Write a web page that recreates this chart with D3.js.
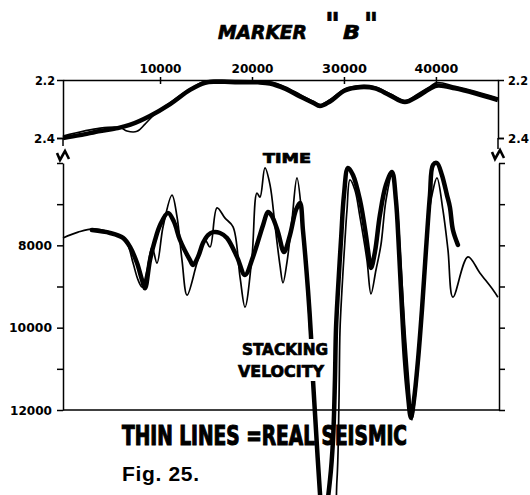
<!DOCTYPE html>
<html>
<head>
<meta charset="utf-8">
<script src="https://cdn.jsdelivr.net/npm/d3@7"></script>
<style>
	body { margin: 0; background: #fff; }
	svg { display: block; background: #fff; }
	.heavy { font-family: "Liberation Sans Narrow", "DejaVu Sans Condensed", "Liberation Sans", sans-serif; font-weight: bold; fill: #000; }
	.axis path, .axis line { stroke: #000; stroke-width: 1.5; }
</style>
</head>
<body>
<svg id="chart" width="530" height="495"></svg>
<script>
var timeTicks = [10000, 20000, 30000, 40000];
var markerTicks = [2.2, 2.4];
var velocityTicks = [6000, 7000, 8000, 9000, 10000, 11000, 12000];
var velocityLabels = [8000, 10000, 12000];

// marker "B" time: model (thick) and real seismic (thin)
var markerModel = [[-550, 2.400], [1300, 2.390], [3500, 2.376], [5400, 2.366], [6700, 2.355], [8900, 2.324],
	[11100, 2.283], [13260, 2.234], [14890, 2.210], [15980, 2.206], [17610, 2.207], [19240, 2.208],
	[20650, 2.208], [21960, 2.212], [23590, 2.230], [25220, 2.257], [26630, 2.278], [27390, 2.290],
	[28480, 2.274], [30110, 2.236], [31740, 2.225], [33370, 2.229], [35000, 2.253], [36630, 2.276],
	[38040, 2.256], [39350, 2.230], [40220, 2.219], [42070, 2.229], [44240, 2.246], [46740, 2.269]];
var markerSeismic = [[-550, 2.393], [3500, 2.366], [5650, 2.364], [6400, 2.376], [7500, 2.377], [8370, 2.352],
	[9460, 2.317], [11100, 2.278], [13260, 2.231], [14890, 2.204], [17600, 2.202], [20650, 2.203],
	[21960, 2.206], [23590, 2.223], [25220, 2.250], [26630, 2.273], [27390, 2.285], [28480, 2.268],
	[30110, 2.230], [31740, 2.219], [33370, 2.223], [35000, 2.247], [36630, 2.271], [38040, 2.248],
	[39350, 2.223], [40110, 2.209], [42070, 2.222], [44240, 2.239], [46740, 2.262]];

// stacking velocity: model (thick) and real seismic (thin)
var velocityModel = [[2600, 7630], [4570, 7700], [5980, 7820], [6740, 8040], [7500, 8430], [8040, 8840],
	[8370, 9040], [8910, 8360], [9460, 7870], [10000, 7510], [10870, 7215], [11520, 7430], [12170, 7870],
	[13260, 8360], [13590, 8480], [14130, 8280], [14680, 7940], [15220, 7750], [15760, 7680], [16520, 7700],
	[17280, 7820], [18370, 8280], [19240, 8720], [20110, 8280], [21200, 7510], [21740, 7190], [22170, 7290],
	[22830, 7680], [23480, 8160], [24130, 7750], [24780, 7140], [25220, 6970], [25540, 7630], [26090, 9090],
	[26410, 10180], [26630, 11270], [26960, 12490], [27390, 14020], [27720, 14910], [28480, 13700],
	[28810, 12730], [29020, 11270], [29130, 10060], [29350, 9090], [29680, 7870], [30000, 6780],
	[30440, 6120], [30980, 6290], [31740, 6900], [32390, 7750], [32610, 8110], [32940, 8550], [33370, 8160],
	[33910, 7260], [34570, 6530], [35220, 6220], [35650, 6900], [35980, 8110], [36310, 9570], [36630, 10790],
	[36960, 11640], [37280, 12190], [37610, 11760], [38050, 10790], [38480, 9570], [38920, 8110],
	[39350, 6780], [39680, 6050], [40110, 6000], [40650, 6290], [41200, 6780], [41520, 7070], [41850, 7630],
	[42390, 7990]];
var velocitySeismic = [[-550, 7820], [1090, 7680], [2720, 7600], [4570, 7680], [5650, 7770], [6410, 7940],
	[7070, 8430], [7610, 8840], [8040, 9010], [8590, 8600], [9130, 8040], [9670, 8430], [10330, 7550],
	[11300, 6780], [11850, 7310], [12390, 8360], [12940, 9210], [14020, 8430], [14890, 7870], [15440, 8040],
	[16200, 7090], [17070, 7340], [17940, 7550], [18700, 8770], [19240, 9500], [20000, 8280], [20540, 6730],
	[20870, 6830], [21410, 6120], [21960, 6530], [22500, 7510], [23040, 8480], [23370, 8910], [23810, 8400],
	[24350, 7380], [24890, 6360], [25440, 7310], [25980, 8910], [26410, 10540], [26850, 12240],
	[27280, 13700], [27830, 14910], [28700, 14910], [29240, 13700], [29460, 11760], [29570, 10060],
	[29780, 9090], [30110, 7870], [30330, 7140], [30650, 6410], [31200, 6660], [31740, 7310], [32500, 8360],
	[32940, 9180], [33480, 8600], [34020, 7990], [34570, 6900], [35220, 6290], [35760, 7020], [36200, 8480],
	[36630, 10060], [37070, 11390], [37390, 12240], [37830, 11510], [38370, 10060], [38810, 8600],
	[39240, 7260], [39570, 6780], [40110, 6360], [40760, 7140], [41310, 8110], [41850, 9260], [43480, 8280],
	[44780, 8670], [46200, 9080], [46740, 9260]];

var svg = d3.select('#chart');

var x = d3.scaleLinear().domain([-550, 46750]).range([63, 498]);
var yTime = d3.scaleLinear().domain([2.2, 2.4]).range([80, 138]);
var yVel = d3.scaleLinear().domain([6000, 12000]).range([163, 410]);

function fitText(sel, widths){
	sel.attr('class', 'heavy')
		.attr('textLength', function(d){ return widths[d]; })
		.attr('lengthAdjust', 'spacingAndGlyphs');
}

// top axis with distance ticks
var topAxis = svg.append('g')
	.attr('class', 'axis')
	.attr('transform', 'translate(0,' + yTime(2.2) + ')')
	.call(d3.axisTop(x).tickValues(timeTicks).tickSizeInner(-4).tickSizeOuter(0).tickPadding(7)
		.tickFormat(d3.format('d')));
topAxis.selectAll('.tick line').attr('y1', -3).attr('y2', 4);
topAxis.selectAll('.tick text')
	.attr('font-size', 13)
	.call(fitText, {10000: 42, 20000: 42, 30000: 45, 40000: 44});

// marker panel side axes
var mLeft = svg.append('g')
	.attr('class', 'axis')
	.attr('transform', 'translate(' + x.range()[0] + ',0)')
	.call(d3.axisLeft(yTime).tickValues(markerTicks).tickSize(6).tickPadding(2).tickFormat(d3.format('.1f')));
var mRight = svg.append('g')
	.attr('class', 'axis')
	.attr('transform', 'translate(' + x.range()[1] + ',0)')
	.call(d3.axisRight(yTime).tickValues(markerTicks).tickSize(6).tickPadding(4).tickFormat(d3.format('.1f')));
[mLeft, mRight].forEach(function(g){
	g.selectAll('.tick line').filter(function(d){ return d === 2.2; }).remove();
	g.selectAll('.tick text')
		.attr('font-size', 13)
		.call(fitText, {2.2: 20, 2.4: 21});
});
svg.append('line').attr('x1', x.range()[0]).attr('x2', x.range()[0])
	.attr('y1', yTime(2.4)).attr('y2', yTime(2.4) + 8)
	.attr('stroke', '#000').attr('stroke-width', 1.5);
svg.append('line').attr('x1', x.range()[1]).attr('x2', x.range()[1])
	.attr('y1', yTime(2.4)).attr('y2', yTime(2.4) + 11)
	.attr('stroke', '#000').attr('stroke-width', 1.5);

// velocity panel axes
var vLeft = svg.append('g')
	.attr('class', 'axis')
	.attr('transform', 'translate(' + x.range()[0] + ',0)')
	.call(d3.axisLeft(yVel).tickValues(velocityTicks).tickSize(6).tickPadding(5).tickSizeOuter(0)
		.tickFormat(function(d){ return velocityLabels.indexOf(d) >= 0 ? d : ''; }));
vLeft.selectAll('.tick text')
	.attr('font-size', 13)
	.call(fitText, {8000: 34, 10000: 43, 12000: 42});
svg.append('g')
	.attr('class', 'axis')
	.attr('transform', 'translate(' + (x.range()[1] + 1) + ',0)')
	.call(d3.axisRight(yVel).tickValues(velocityTicks).tickSize(6).tickSizeOuter(0).tickFormat(''));
svg.append('line')
	.attr('x1', x.range()[0]).attr('x2', x.range()[1] + 1)
	.attr('y1', yVel(12000)).attr('y2', yVel(12000))
	.attr('stroke', '#000').attr('stroke-width', 1.5);

// axis break marks
function breakMark(cx, cy){
	svg.append('path')
		.attr('d', 'M' + (cx - 6) + ',' + (cy - 2) + 'L' + (cx - 3) + ',' + (cy + 5) + 'L' + (cx + 2) + ',' + (cy - 4)
			+ 'L' + (cx + 6) + ',' + (cy + 4))
		.attr('fill', 'none')
		.attr('stroke', '#000')
		.attr('stroke-width', 2.6)
		.attr('stroke-linejoin', 'miter');
}
breakMark(x.range()[0], 155);
breakMark(x.range()[1], 154);

// curves
var markerLine = d3.line()
	.x(function(d){ return x(d[0]); })
	.y(function(d){ return yTime(d[1]); })
	.curve(d3.curveCatmullRom.alpha(0.5));
var velocityLine = d3.line()
	.x(function(d){ return x(d[0]); })
	.y(function(d){ return yVel(d[1]); })
	.curve(d3.curveCatmullRom.alpha(0.5));

svg.append('path').datum(markerModel)
	.attr('d', markerLine).attr('fill', 'none').attr('stroke', '#000').attr('stroke-width', 4.5);
svg.append('path').datum(markerSeismic)
	.attr('d', markerLine).attr('fill', 'none').attr('stroke', '#000').attr('stroke-width', 1.6);
svg.append('path').datum(velocityModel)
	.attr('d', velocityLine).attr('fill', 'none').attr('stroke', '#000').attr('stroke-width', 4.5)
	.attr('stroke-linecap', 'round');
svg.append('path').datum(velocitySeismic)
	.attr('d', velocityLine).attr('fill', 'none').attr('stroke', '#000').attr('stroke-width', 1.7);

// text
function label(tx, ty, str, size, len, extra){
	var t = svg.append('text')
		.attr('class', 'heavy')
		.attr('x', tx)
		.attr('y', ty)
		.attr('font-size', size)
		.attr('textLength', len)
		.attr('lengthAdjust', 'spacingAndGlyphs')
		.attr('stroke', '#000')
		.attr('stroke-width', 0.7)
		.text(str);
	if (extra) extra(t);
	return t;
}

label(218, 39, 'MARKER', 20, 89, function(t){ t.attr('font-style', 'italic'); });
label(325, 35, '"', 32, 15, function(t){ t.attr('font-style', 'italic'); });
label(343, 39, 'B', 20, 17, function(t){ t.attr('font-style', 'italic'); });
label(364, 35, '"', 32, 14, function(t){ t.attr('font-style', 'italic'); });

label(263, 163, 'TIME', 14, 48);

svg.append('rect')
	.attr('x', 236).attr('y', 339).attr('width', 95).attr('height', 42)
	.attr('fill', '#fff');
label(242, 355, 'STACKING', 16, 86);
label(238, 377, 'VELOCITY', 16, 86);

label(122, 445, 'THIN LINES =REAL SEISMIC', 26, 285, function(t){ t.attr('stroke-width', 1.1); });

svg.append('text')
	.attr('x', 122)
	.attr('y', 481)
	.attr('font-family', '"Liberation Sans", Arial, sans-serif')
	.attr('font-weight', 'bold')
	.attr('font-size', 21)
	.attr('textLength', 77)
	.attr('lengthAdjust', 'spacing')
	.text('Fig. 25.');
</script>
</body>
</html>
